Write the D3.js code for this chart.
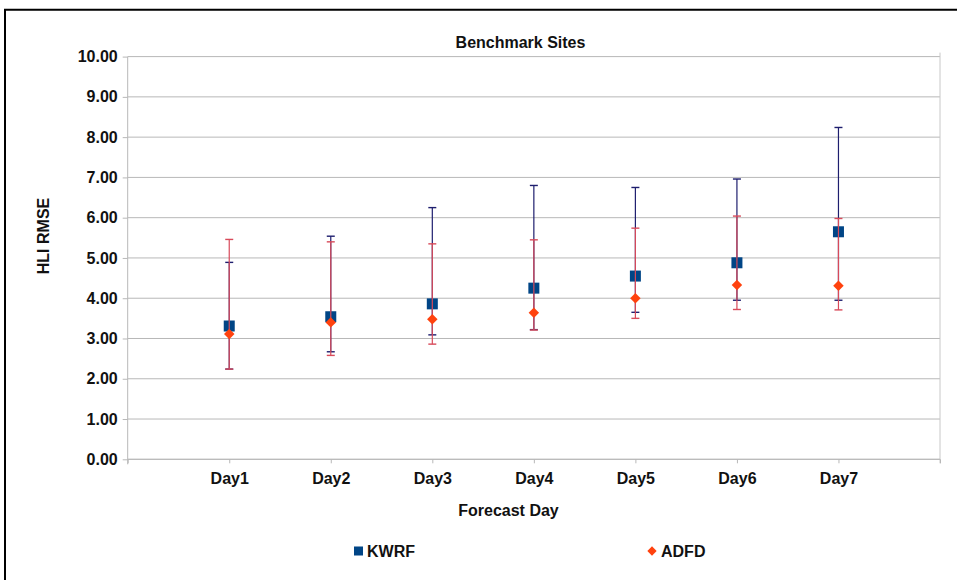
<!DOCTYPE html>
<html>
<head>
<meta charset="utf-8">
<script src="https://cdn.jsdelivr.net/npm/d3@7"></script>
<style>
  html, body { margin: 0; padding: 0; background: #ffffff; }
  svg { display: block; }
  text { font-family: "Liberation Sans", Arial, sans-serif; font-weight: bold; fill: #111; }
</style>
</head>
<body>
<svg id="chart" width="957" height="580"></svg>
<script>
// Forecast days on the x axis
const days = ["Day1", "Day2", "Day3", "Day4", "Day5", "Day6", "Day7"];

// KWRF: mean RMSE with upper / lower error limits
const kwrfMean = [3.31, 3.54, 3.86, 4.25, 4.55, 4.88, 5.65];
const kwrfHigh = [4.89, 5.54, 6.25, 6.80, 6.75, 6.96, 8.24];
const kwrfLow  = [2.24, 2.67, 3.09, 3.22, 3.65, 3.95, 3.95];

// ADFD: mean RMSE with upper / lower error limits
const adfdMean = [3.11, 3.40, 3.48, 3.64, 4.00, 4.33, 4.31];
const adfdHigh = [5.46, 5.40, 5.35, 5.45, 5.74, 6.04, 5.98];
const adfdLow  = [2.24, 2.58, 2.86, 3.21, 3.50, 3.72, 3.71];

// Y axis tick values
const yTicks = [0, 1, 2, 3, 4, 5, 6, 7, 8, 9, 10];

const svg = d3.select("#chart");

const plotLeft = 127.7, plotRight = 940, plotTop = 56.6, plotBottom = 459.3;

// categories sit at positions 1..7 of an 8-interval axis
const x = d3.scaleLinear().domain([0, days.length + 1]).range([plotLeft, plotRight]);
const y = d3.scaleLinear().domain([0, 10]).range([plotBottom, plotTop]);

// outer frame
svg.append("path")
  .attr("d", `M5,590 L5,9.7 L970,9.7`)
  .attr("fill", "none")
  .attr("stroke", "#000")
  .attr("stroke-width", 2);

// horizontal gridlines
svg.append("g")
  .selectAll("line")
  .data(yTicks)
  .join("line")
  .attr("x1", plotLeft).attr("x2", plotRight)
  .attr("y1", d => y(d)).attr("y2", d => y(d))
  .attr("stroke", "#b8b8b8")
  .attr("stroke-width", 1);

// right edge of the plot area
svg.append("line")
  .attr("x1", plotRight).attr("x2", plotRight)
  .attr("y1", plotTop - 4).attr("y2", plotBottom + 4)
  .attr("stroke", "#c8c8c8");

// y axis
const yAxis = svg.append("g")
  .attr("transform", `translate(${plotLeft},0)`)
  .call(d3.axisLeft(y).tickValues(yTicks).tickFormat(d3.format(".2f")).tickSize(5).tickPadding(5));
yAxis.select(".domain").attr("stroke", "#b8b8b8").attr("d", `M0,${plotTop}V${plotBottom + 5}`);
yAxis.selectAll(".tick line").attr("stroke", "#b8b8b8");
yAxis.selectAll(".tick text")
  .attr("font-size", 16)
  .attr("font-family", "Liberation Sans, Arial, sans-serif")
  .attr("font-weight", "bold")
  .attr("fill", "#111");

// x axis
const xAxis = svg.append("g")
  .attr("transform", `translate(0,${plotBottom})`)
  .call(d3.axisBottom(x)
    .tickValues(d3.range(0, days.length + 2))
    .tickFormat(i => (i >= 1 && i <= days.length) ? days[i - 1] : "")
    .tickSize(4).tickPadding(9));
xAxis.select(".domain").attr("stroke", "#b8b8b8").attr("d", `M${plotLeft},0H${plotRight}`);
xAxis.selectAll(".tick line").attr("stroke", "#b8b8b8");
xAxis.selectAll(".tick text")
  .attr("font-size", 16)
  .attr("font-family", "Liberation Sans, Arial, sans-serif")
  .attr("font-weight", "bold")
  .attr("fill", "#111");

// error bars
const blueBar = "#1e1e6e", redBar = "#d84a5a";
const capHalf = 4;

function errorBars(cls, hi, lo, color) {
  const g = svg.append("g").attr("class", cls);
  const rows = days.map((d, i) => ({ i, hi: hi[i], lo: lo[i] }));
  g.selectAll("line.stem").data(rows).join("line")
    .attr("class", "stem")
    .attr("x1", d => x(d.i + 1)).attr("x2", d => x(d.i + 1))
    .attr("y1", d => y(d.hi)).attr("y2", d => y(d.lo))
    .attr("stroke", color).attr("stroke-width", 1.2);
  ["hi", "lo"].forEach(k => {
    g.selectAll("line.cap-" + k).data(rows).join("line")
      .attr("class", "cap-" + k)
      .attr("x1", d => x(d.i + 1) - capHalf).attr("x2", d => x(d.i + 1) + capHalf)
      .attr("y1", d => y(d[k])).attr("y2", d => y(d[k]))
      .attr("stroke", color).attr("stroke-width", 1.4);
  });
}

const squareColor = "#004586", diamondColor = "#ff420e";
const sq = 11;

errorBars("kwrf-err", kwrfHigh, kwrfLow, blueBar);

svg.append("g").selectAll("rect")
  .data(kwrfMean)
  .join("rect")
  .attr("x", (d, i) => x(i + 1) - sq / 2)
  .attr("y", d => y(d) - sq / 2)
  .attr("width", sq).attr("height", sq)
  .attr("fill", squareColor);

errorBars("adfd-err", adfdHigh, adfdLow, redBar);

const diamond = d3.symbol().type(d3.symbolDiamond2).size(70);
svg.append("g").selectAll("path")
  .data(adfdMean)
  .join("path")
  .attr("d", diamond)
  .attr("transform", (d, i) => `translate(${x(i + 1)},${y(d)})`)
  .attr("fill", diamondColor);

// titles
svg.append("text")
  .attr("x", 520.5).attr("y", 48)
  .attr("text-anchor", "middle")
  .attr("font-size", 16)
  .text("Benchmark Sites");

svg.append("text")
  .attr("transform", "translate(49,236) rotate(-90)")
  .attr("text-anchor", "middle")
  .attr("font-size", 16)
  .text("HLI RMSE");

svg.append("text")
  .attr("x", 508.5).attr("y", 516)
  .attr("text-anchor", "middle")
  .attr("font-size", 16)
  .text("Forecast Day");

// legend
const legend = svg.append("g");
legend.append("rect")
  .attr("x", 354).attr("y", 546.5).attr("width", 9).attr("height", 9)
  .attr("fill", squareColor);
legend.append("text")
  .attr("x", 367).attr("y", 557)
  .attr("font-size", 16)
  .text("KWRF");
legend.append("path")
  .attr("d", d3.symbol().type(d3.symbolDiamond2).size(55))
  .attr("transform", "translate(652,551)")
  .attr("fill", diamondColor);
legend.append("text")
  .attr("x", 661).attr("y", 557)
  .attr("font-size", 16)
  .text("ADFD");
</script>
</body>
</html>
